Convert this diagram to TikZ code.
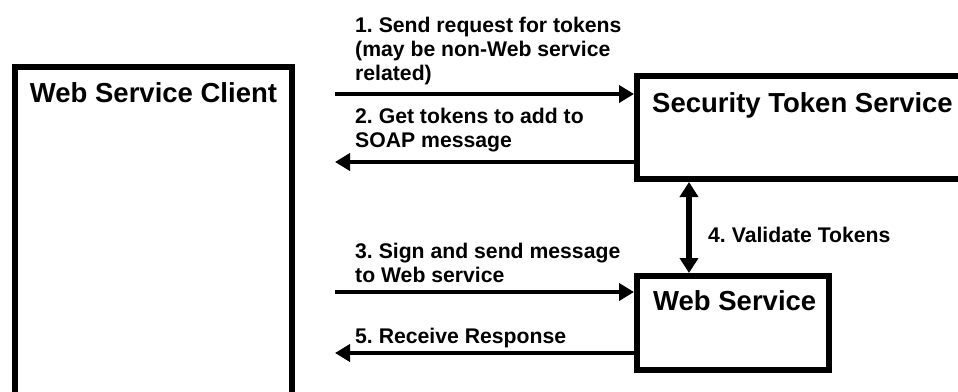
\documentclass[tikz,border=0pt]{standalone}
\usepackage{fontspec}
\setmainfont{Liberation Sans}
\usetikzlibrary{arrows.meta}
\frenchspacing
\begin{document}
\begin{tikzpicture}[x=1pt,y=-1pt,
  box/.style={draw, line width=6pt, fill=white, inner sep=0pt, anchor=north west},
  title/.style={font=\fontsize{27.5}{30}\selectfont\bfseries, inner sep=0pt},
  lbl/.style={font=\fontsize{21.2}{24}\selectfont\bfseries, inner sep=0pt, align=left},
  flow/.style={line width=4.5pt, -{Triangle[length=15pt,width=17pt]}},
  both/.style={line width=5.5pt, {Triangle[length=15pt,width=18pt]}-{Triangle[length=15pt,width=18pt]}}]
\useasboundingbox (0,0) rectangle (958,391);
\clip (0,0) rectangle (958,391);

% boxes (client runs off the bottom, token service off the right)
\node[box, minimum width=277pt, minimum height=400pt] (client) at (12,64) {};
\node[box, minimum width=400pt, minimum height=103pt] (sts) at (634,73) {};
\node[box, minimum width=192pt, minimum height=94pt] (ws) at (634,273) {};

% box titles
\node[title, anchor=base] (tclient) at (153.5,102) {Web Service Client};
\node[title, anchor=base west] (tsts) at (652,112) {Security Token Service};
\node[title, anchor=base west] (tws) at (653,310) {Web Service};

% message flows
\coordinate (e1) at (335,94);
\coordinate (e2) at (335,162);
\coordinate (e3) at (335,292);
\coordinate (e5) at (335,353);
\coordinate (v4) at (689,230);
\draw[flow] (e1) -- (e1 -| sts.west);
\draw[flow] (e2 -| sts.west) -- (e2);
\draw[flow] (e3) -- (e3 -| ws.west);
\draw[flow] (e5 -| ws.west) -- (e5);
\draw[both] (v4 |- sts.south) -- (v4 |- ws.north);

% flow labels (anchored at the baseline of their last line)
\node[lbl, anchor=base west] (l1) at (355,80) {1. Send request for tokens\\(may be non-Web service\\related)};
\node[lbl, anchor=base west] (l2) at (355,147) {2. Get tokens to add to\\SOAP message};
\node[lbl, anchor=base west] (l3) at (355,282) {3. Sign and send message\\to Web service};
\node[lbl, anchor=base west] (l4) at (708,242) {4. Validate Tokens};
\node[lbl, anchor=base west] (l5) at (355,343) {5. Receive Response};
\end{tikzpicture}
\end{document}
